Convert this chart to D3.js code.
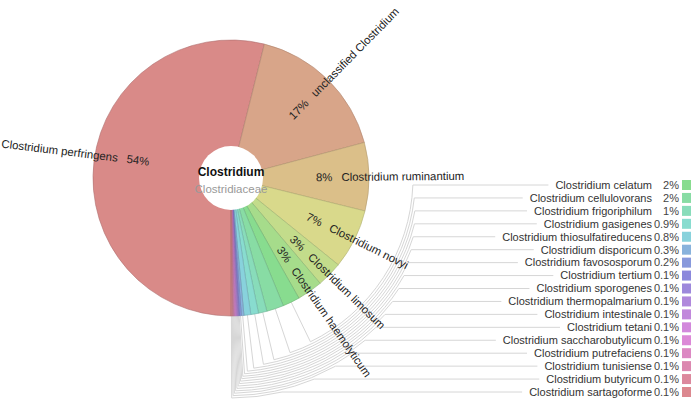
<!DOCTYPE html>
<html>
<head>
<meta charset="utf-8">
<title>Clostridium</title>
<style>
  body { margin: 0; background: #fff; }
  svg text { font-family: "Liberation Sans", Arial, sans-serif; font-size: 11px; }
  svg text.wheel { font-size: 11.4px; }
</style>
</head>
<body>
<div id="chart"></div>
<script src="https://cdnjs.cloudflare.com/ajax/libs/d3/7.8.5/d3.min.js"></script>
<script>
// species under the genus, in drawing order (clockwise from the bottom)
const species = ["Clostridium perfringens", "unclassified Clostridium", "Clostridium ruminantium",
  "Clostridium novyi", "Clostridium limosum", "Clostridium haemolyticum", "Clostridium celatum",
  "Clostridium cellulovorans", "Clostridium frigoriphilum", "Clostridium gasigenes",
  "Clostridium thiosulfatireducens", "Clostridium disporicum", "Clostridium favososporum",
  "Clostridium tertium", "Clostridium sporogenes", "Clostridium thermopalmarium",
  "Clostridium intestinale", "Clostridium tetani", "Clostridium saccharobutylicum",
  "Clostridium putrefaciens", "Clostridium tunisiense", "Clostridium butyricum",
  "Clostridium sartagoforme"];
const percents = [54, 17, 8, 7, 3, 3, 2, 2, 1, 0.9, 0.8, 0.3, 0.2,
  0.1, 0.1, 0.1, 0.1, 0.1, 0.1, 0.1, 0.1, 0.1, 0.1];
const pctLabels = ["54%", "17%", "8%", "7%", "3%", "3%", "2%", "2%", "1%", "0.9%", "0.8%", "0.3%", "0.2%",
  "0.1%", "0.1%", "0.1%", "0.1%", "0.1%", "0.1%", "0.1%", "0.1%", "0.1%", "0.1%"];
const nInside = 6; // first slices carry their label on the wheel, the rest go to the key list

const colors = ["#d98a88", "#d8a589", "#dbbf89", "#d9d98b", "#c3dc8b", "#a6dc8b", "#88dc8f",
  "#88dca4", "#88dcba", "#88dccf", "#88d2dc", "#88b2dc", "#8899dc", "#8b88dc", "#9d88dc",
  "#b088dc", "#c188dc", "#d288dc", "#dc88d7", "#dc88c3", "#dc88b0", "#dc889d", "#dc888f"];

const W = 698, H = 407;
const cx = 231, cy = 178, R = 138, hole = 32;

const svg = d3.select("#chart").append("svg")
  .attr("width", W).attr("height", H);

const g = svg.append("g").attr("transform", `translate(${cx},${cy})`);

const pie = d3.pie().sort(null).value(d => d)
  .startAngle(Math.PI).endAngle(3 * Math.PI);
const arcs = pie(percents);
const arc = d3.arc().innerRadius(0).outerRadius(R);

const mid = d => (d.startAngle + d.endAngle) / 2;

// key list on the right
const keyIdx = d3.range(nInside, species.length);
const rowY = d3.scalePoint().domain(keyIdx).range([185, 392]);
const keyR = d3.scaleLinear().domain([nInside, species.length - 1]).range([182, 220]);

const keys = svg.append("g");
keyIdx.forEach(i => {
  const y = rowY(i);
  keys.append("text")
    .attr("class", "kname")
    .attr("x", 652).attr("y", y).attr("dy", "0.35em")
    .attr("text-anchor", "end").attr("fill", "#333")
    .text(species[i]);
  keys.append("text")
    .attr("x", 679).attr("y", y).attr("dy", "0.35em")
    .attr("text-anchor", "end").attr("fill", "#444")
    .text(pctLabels[i]);
  keys.append("rect")
    .attr("x", 682).attr("y", y - 5)
    .attr("width", 9).attr("height", 10)
    .attr("fill", colors[i]);
});

// leader lines: radial out, arc round, then across to the key text
const lines = g.insert("g", ":first-child");
keys.selectAll("text.kname").each(function(_, j) {
  const i = keyIdx[j];
  const th = mid(arcs[i]);
  const r = keyR(i);
  const dy = rowY(i) - cy;
  const ph = Math.acos(-dy / r);
  const x0 = R * Math.sin(th), y0 = -R * Math.cos(th);
  const x1 = r * Math.sin(th), y1 = -r * Math.cos(th);
  const x2 = r * Math.sin(ph), y2 = -r * Math.cos(ph);
  const xEnd = 652 - this.getComputedTextLength() - 7 - cx;
  lines.append("path")
    .attr("d", `M${x0},${y0}L${x1},${y1}A${r},${r} 0 0 0 ${x2},${y2}L${xEnd},${y2}`)
    .attr("fill", "none")
    .attr("stroke", "#d6d6d6")
    .attr("stroke-width", 1);
});

// wheel
g.selectAll("path.slice")
  .data(arcs)
  .join("path")
  .attr("class", "slice")
  .attr("d", arc)
  .attr("fill", (d, i) => colors[i])
  .attr("stroke", (d, i) => d3.color(colors[i]).darker(0.6))
  .attr("stroke-width", 0.6);

g.append("circle").attr("r", hole).attr("fill", "#fff");

// labels on the wheel
arcs.slice(0, nInside).forEach((d, i) => {
  const a = mid(d);
  const deg = a * 180 / Math.PI;
  const left = Math.sin(a) < 0;
  const rLab = left ? 83 : 85;
  const t = g.append("text")
    .attr("class", "wheel")
    .attr("transform", `translate(${rLab * Math.sin(a)},${-rLab * Math.cos(a)}) rotate(${left ? deg + 90 : deg - 90})`)
    .attr("dy", left ? "-0.2em" : "0.35em")
    .attr("text-anchor", left ? "end" : "start")
    .attr("fill", "#222");
  if (left) {
    t.append("tspan").text(species[i]);
    t.append("tspan").attr("dx", 9).text(pctLabels[i]);
  } else {
    t.append("tspan").text(pctLabels[i]);
    t.append("tspan").attr("dx", 9).text(species[i]);
  }
});

// centre
g.append("text").attr("y", -2).attr("text-anchor", "middle")
  .attr("font-weight", "bold").attr("fill", "#111")
  .style("font-size", "12px").text("Clostridium");
g.append("text").attr("y", 15).attr("text-anchor", "middle")
  .attr("fill", "#999").style("font-size", "11.5px").text("Clostridiaceae");
</script>
</body>
</html>
